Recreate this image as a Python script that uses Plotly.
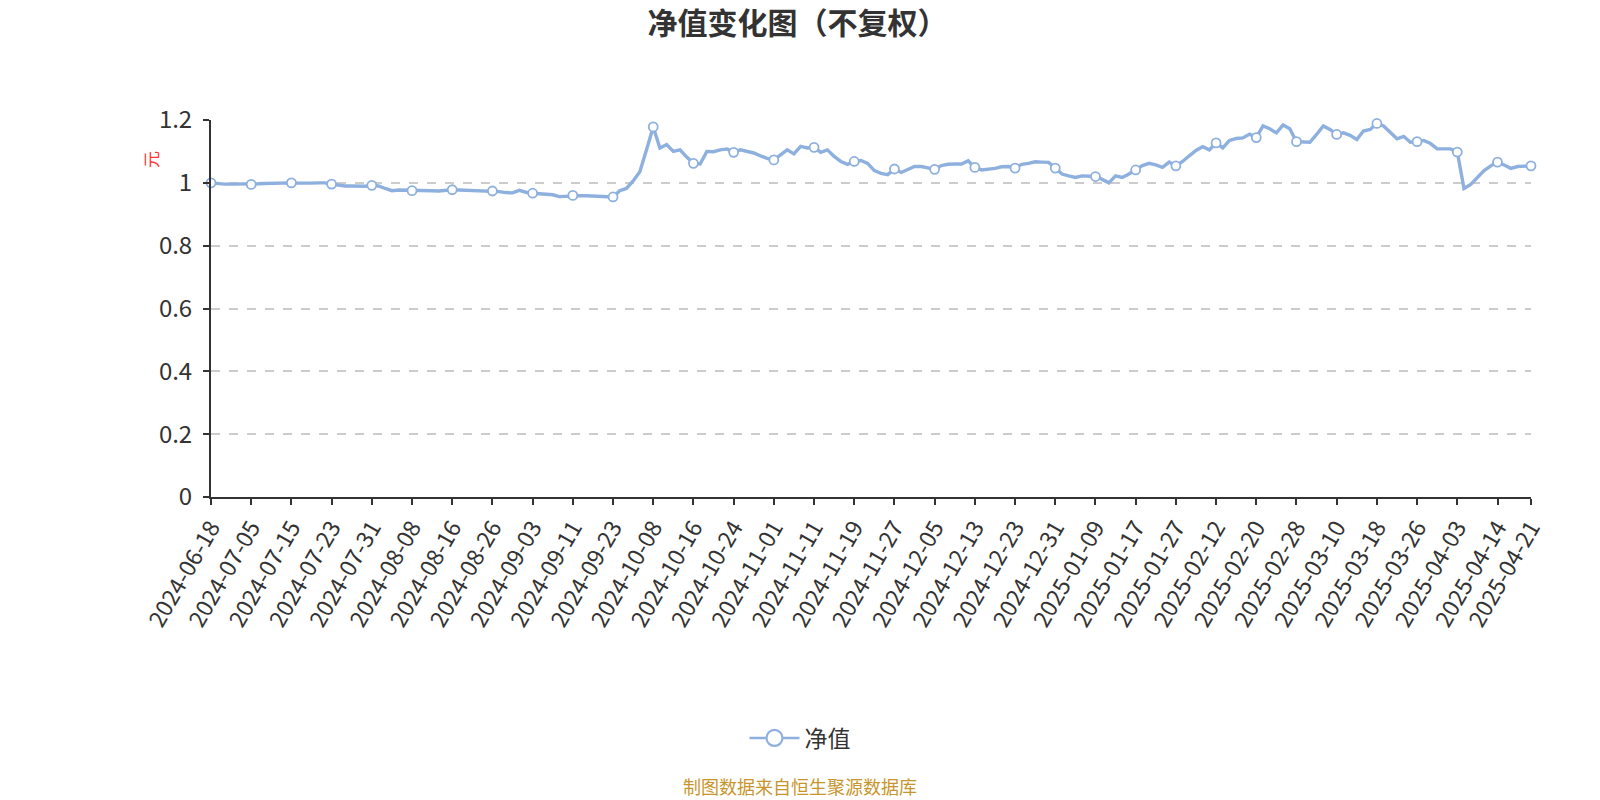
import plotly.graph_objects as go

title_text = "净值变化图（不复权）"
series_name = "净值"
y_unit = "元"
source_text = "制图数据来自恒生聚源数据库"

dates = [
    "2024-06-18", "2024-06-21", "2024-06-28", "2024-07-02", "2024-07-03", "2024-07-04", "2024-07-05",
    "2024-07-08", "2024-07-09", "2024-07-10", "2024-07-11", "2024-07-12", "2024-07-15",
    "2024-07-16", "2024-07-17", "2024-07-18", "2024-07-19", "2024-07-22", "2024-07-23",
    "2024-07-24", "2024-07-25", "2024-07-26", "2024-07-29", "2024-07-30", "2024-07-31",
    "2024-08-01", "2024-08-02", "2024-08-05", "2024-08-06", "2024-08-07", "2024-08-08",
    "2024-08-09", "2024-08-12", "2024-08-13", "2024-08-14", "2024-08-15", "2024-08-16",
    "2024-08-19", "2024-08-20", "2024-08-21", "2024-08-22", "2024-08-23", "2024-08-26",
    "2024-08-27", "2024-08-28", "2024-08-29", "2024-08-30", "2024-09-02", "2024-09-03",
    "2024-09-04", "2024-09-05", "2024-09-06", "2024-09-09", "2024-09-10", "2024-09-11",
    "2024-09-12", "2024-09-13", "2024-09-18", "2024-09-19", "2024-09-20", "2024-09-23",
    "2024-09-24", "2024-09-25", "2024-09-26", "2024-09-27", "2024-09-30", "2024-10-08",
    "2024-10-09", "2024-10-10", "2024-10-11", "2024-10-14", "2024-10-15", "2024-10-16",
    "2024-10-17", "2024-10-18", "2024-10-21", "2024-10-22", "2024-10-23", "2024-10-24",
    "2024-10-25", "2024-10-28", "2024-10-29", "2024-10-30", "2024-10-31", "2024-11-01",
    "2024-11-04", "2024-11-05", "2024-11-06", "2024-11-07", "2024-11-08", "2024-11-11",
    "2024-11-12", "2024-11-13", "2024-11-14", "2024-11-15", "2024-11-18", "2024-11-19",
    "2024-11-20", "2024-11-21", "2024-11-22", "2024-11-25", "2024-11-26", "2024-11-27",
    "2024-11-28", "2024-11-29", "2024-12-02", "2024-12-03", "2024-12-04", "2024-12-05",
    "2024-12-06", "2024-12-09", "2024-12-10", "2024-12-11", "2024-12-12", "2024-12-13",
    "2024-12-16", "2024-12-17", "2024-12-18", "2024-12-19", "2024-12-20", "2024-12-23",
    "2024-12-24", "2024-12-25", "2024-12-26", "2024-12-27", "2024-12-30", "2024-12-31",
    "2025-01-02", "2025-01-03", "2025-01-06", "2025-01-07", "2025-01-08", "2025-01-09",
    "2025-01-10", "2025-01-13", "2025-01-14", "2025-01-15", "2025-01-16", "2025-01-17",
    "2025-01-20", "2025-01-21", "2025-01-22", "2025-01-23", "2025-01-24", "2025-01-27",
    "2025-02-05", "2025-02-06", "2025-02-07", "2025-02-10", "2025-02-11", "2025-02-12",
    "2025-02-13", "2025-02-14", "2025-02-17", "2025-02-18", "2025-02-19", "2025-02-20",
    "2025-02-21", "2025-02-24", "2025-02-25", "2025-02-26", "2025-02-27", "2025-02-28",
    "2025-03-03", "2025-03-04", "2025-03-05", "2025-03-06", "2025-03-07", "2025-03-10",
    "2025-03-11", "2025-03-12", "2025-03-13", "2025-03-14", "2025-03-17", "2025-03-18",
    "2025-03-19", "2025-03-20", "2025-03-21", "2025-03-24", "2025-03-25", "2025-03-26",
    "2025-03-27", "2025-03-28", "2025-03-31", "2025-04-01", "2025-04-02", "2025-04-03",
    "2025-04-07", "2025-04-08", "2025-04-09", "2025-04-10", "2025-04-11", "2025-04-14",
    "2025-04-15", "2025-04-16", "2025-04-17", "2025-04-18", "2025-04-21",
]

nav = [
    1.000, 0.997, 0.996, 0.996, 0.996, 0.996, 0.995,
    0.997, 0.998, 0.999, 1.000, 1.000, 1.000,
    0.999, 0.998, 0.999, 1.000, 1.000, 0.996,
    0.993, 0.990, 0.990, 0.990, 0.989, 0.992,
    0.990, 0.982, 0.975, 0.977, 0.977, 0.975,
    0.976, 0.976, 0.975, 0.974, 0.976, 0.978,
    0.977, 0.976, 0.976, 0.976, 0.975, 0.974,
    0.972, 0.969, 0.968, 0.976, 0.970, 0.967,
    0.966, 0.965, 0.962, 0.956, 0.957, 0.960,
    0.959, 0.959, 0.958, 0.958, 0.958, 0.955,
    0.975, 0.982, 1.006, 1.035, 1.105, 1.178,
    1.111, 1.122, 1.100, 1.105, 1.082, 1.062,
    1.060, 1.100, 1.099, 1.105, 1.108, 1.097,
    1.105, 1.100, 1.095, 1.086, 1.078, 1.073,
    1.089, 1.105, 1.092, 1.116, 1.111, 1.113,
    1.097, 1.105, 1.084, 1.068, 1.059, 1.068,
    1.071, 1.062, 1.039, 1.030, 1.026, 1.044,
    1.033, 1.043, 1.052, 1.052, 1.048, 1.043,
    1.055, 1.059, 1.060, 1.060, 1.070, 1.049,
    1.041, 1.043, 1.046, 1.051, 1.052, 1.047,
    1.059, 1.062, 1.067, 1.066, 1.065, 1.047,
    1.028, 1.022, 1.017, 1.022, 1.022, 1.020,
    1.011, 1.000, 1.022, 1.017, 1.028, 1.041,
    1.055, 1.062, 1.057, 1.049, 1.066, 1.054,
    1.068, 1.086, 1.103, 1.115, 1.105, 1.127,
    1.111, 1.135, 1.141, 1.143, 1.155, 1.144,
    1.181, 1.172, 1.159, 1.184, 1.172, 1.131,
    1.129, 1.129, 1.154, 1.181, 1.170, 1.154,
    1.159, 1.151, 1.138, 1.165, 1.170, 1.189,
    1.181, 1.159, 1.140, 1.148, 1.129, 1.131,
    1.135, 1.125, 1.108, 1.108, 1.108, 1.098,
    0.982, 0.995, 1.017, 1.039, 1.054, 1.066,
    1.057, 1.046, 1.052, 1.052, 1.054,
]

y_ticks = [0, 0.2, 0.4, 0.6, 0.8, 1.0, 1.2]
y_tick_text = ["0", "0.2", "0.4", "0.6", "0.8", "1", "1.2"]

label_step = 6
tick_dates = dates[::label_step]
if tick_dates[-1] != dates[-1]:
    tick_dates = tick_dates + [dates[-1]]
marker_idx = [dates.index(d) for d in tick_dates]
marker_x = [dates[i] for i in marker_idx]
marker_y = [nav[i] for i in marker_idx]

LINE = "#8eb0de"
FONT = "Microsoft YaHei, Noto Sans CJK SC, sans-serif"

W, H = 1600, 800
L, R, T, B = 211, 69, 120, 303
pw, ph = W - L - R, H - T - B

fig = go.Figure()
fig.add_trace(go.Scatter(
    x=dates, y=nav, mode="lines", line=dict(color=LINE, width=3.4),
    showlegend=False, hoverinfo="x+y",
))
fig.add_trace(go.Scatter(
    x=marker_x, y=marker_y, mode="markers",
    marker=dict(size=9, color="white", line=dict(color=LINE, width=1.8)),
    showlegend=False, cliponaxis=False, hoverinfo="skip",
))
fig.add_trace(go.Scatter(
    x=[None], y=[None], mode="lines+markers", name=series_name,
    line=dict(color=LINE, width=2.5),
    marker=dict(size=22, color="white", line=dict(color=LINE, width=2.2)),
))

fig.update_layout(
    width=W, height=H,
    margin=dict(l=L, r=R, t=T, b=B),
    paper_bgcolor="white", plot_bgcolor="white",
    font=dict(family=FONT, color="#333333"),
    title=dict(text=f"<b>{title_text}</b>", x=0.4985, xanchor="center",
               y=1 - 23 / H, yanchor="middle", yref="container",
               font=dict(size=30, color="#333333", family=FONT)),
    xaxis=dict(
        type="category", range=[0, len(dates) - 1],
        tickmode="array", tickvals=tick_dates, ticktext=tick_dates,
        tickangle=-60, tickfont=dict(size=23, color="#333333"),
        showline=True, linecolor="#333333", linewidth=2,
        ticks="outside", ticklen=6, tickcolor="#333333", tickwidth=2,
        showgrid=False, zeroline=False,
    ),
    yaxis=dict(
        range=[0, 1.2], tickmode="array", tickvals=y_ticks, ticktext=y_tick_text,
        tickfont=dict(size=24, color="#333333"), ticklabelstandoff=6,
        showline=True, linecolor="#333333", linewidth=2,
        ticks="outside", ticklen=6, tickcolor="#333333", tickwidth=2,
        showgrid=True, gridcolor="#cccccc", griddash="dash", gridwidth=1.5,
        zeroline=False,
    ),
    legend=dict(orientation="h", x=0.5, xanchor="center", xref="container",
                y=1 - 738 / H, yanchor="middle", yref="container",
                font=dict(size=23, color="#333333"), itemwidth=50),
    annotations=[
        dict(text=y_unit, textangle=-90, xref="paper", yref="paper",
             x=(150 - L) / pw, y=(H - B - 160) / ph, showarrow=False,
             xanchor="center", yanchor="middle",
             font=dict(size=17, color="#ff3333")),
        dict(text=source_text, xref="paper", yref="paper",
             x=(800 - L) / pw, y=(H - B - 786) / ph, showarrow=False,
             xanchor="center", yanchor="middle",
             font=dict(size=18, color="#c8952c")),
    ],
)

fig.write_html(
    "out.html",
    config={"displayModeBar": False},
    post_script="document.body.style.margin='0';document.body.style.overflow='hidden';",
)
